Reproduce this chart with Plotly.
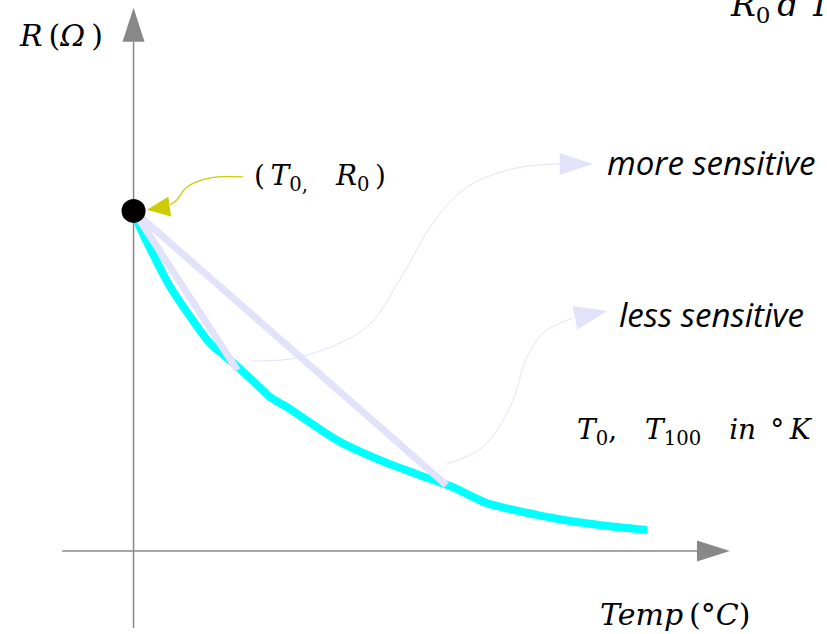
import math
import plotly.graph_objects as go

# ---------------- data ----------------
temp = [0, 1.2, 7.0, 14.8, 18.7, 24.5, 26.5, 29.8, 39.6, 49.3, 55.7, 62.1, 68.7, 81.6, 91.0, 100.0]
resistance = [100, 95.3, 78.0, 61.2, 56.2, 48.2, 45.3, 42.4, 32.6, 25.9, 22.3, 18.8, 14.1, 9.7, 7.6, 6.2]
T0, R0 = 0, 100
secant_T = [20.2, 60.9]
secant_R = [53.2, 19.4]

# annotation connector paths (data units)
more_T = [23.0, 32.4, 45.4, 51.8, 58.3, 64.9, 74.6, 83.0]
more_R = [55.9, 57.0, 65.9, 79.7, 96.4, 107.0, 112.6, 113.8]
less_T = [61.0, 68.0, 73.3, 76.6, 79.7, 85.5]
less_R = [25.6, 30.6, 42.3, 57.0, 64.1, 68.5]
pt_T = [21.3, 14.9, 10.4, 8.4, 7.1]
pt_R = [110.0, 109.7, 107.0, 103.2, 101.7]

X_RANGE = [-26.0, 135.0]
Y_RANGE = [-24.4, 162.0]
W, H = 827, 634
PX_X = W / (X_RANGE[1] - X_RANGE[0])
PX_Y = H / (Y_RANGE[1] - Y_RANGE[0])

GRAY = "#888888"
LAV = "#e2e2fa"
CYAN = "#00ffff"
YEL = "#cccc00"


def arrowhead(tip_x, tip_y, angle_deg, length, width):
    a = math.radians(angle_deg)
    dx, dy = math.cos(a), math.sin(a)
    bx = tip_x - length * dx / PX_X
    by = tip_y - length * dy / PX_Y
    px, py = -dy, dx
    c1 = (bx + width / 2 * px / PX_X, by + width / 2 * py / PX_Y)
    c2 = (bx - width / 2 * px / PX_X, by - width / 2 * py / PX_Y)
    return [tip_x, c1[0], c2[0], tip_x], [tip_y, c1[1], c2[1], tip_y]


fig = go.Figure()


def add_line(x, y, color, width, shape="linear", smoothing=1.0):
    line = dict(color=color, width=width, shape=shape)
    if shape == "spline":
        line["smoothing"] = smoothing
    fig.add_trace(go.Scatter(x=x, y=y, mode="lines", line=line, hoverinfo="skip"))


def add_head(x, y, color):
    fig.add_trace(go.Scatter(x=x, y=y, mode="lines", fill="toself", fillcolor=color,
                             line=dict(color=color, width=0), hoverinfo="skip"))


# axes
add_line([-13.9, 109.7], [0, 0], GRAY, 1.5)
add_head(*arrowhead(116.1, 0, 0, 33, 21), GRAY)
add_line([0, 0], [-22.6, 149.7], GRAY, 1.5)
add_head(*arrowhead(0, 159.7, 90, 34, 22), GRAY)

# curve
add_line(temp, resistance, CYAN, 8, "spline", 0.6)

# secant lines
for tx, rx in zip(secant_T, secant_R):
    add_line([T0, tx], [R0, rx], LAV, 7)

# thin connectors
add_line(more_T, more_R, LAV, 1, "spline")
add_head(*arrowhead(89.4, 113.8, 0, 33, 22), LAV)
add_line(less_T, less_R, LAV, 1, "spline")
add_head(*arrowhead(92.2, 70.6, 12, 33, 24), LAV)
add_line(pt_T, pt_R, YEL, 1.2, "spline")
add_head(*arrowhead(2.6, 100.3, 188, 23, 20), YEL)

# point
fig.add_trace(go.Scatter(x=[T0], y=[R0], mode="markers",
                         marker=dict(color="black", size=24), hoverinfo="skip"))

SERIF = "DejaVu Serif"
SANS = "Open Sans"
ann = [
    dict(x=-22.7, y=151.7, text="<i>R</i>\u2009(<i>Ω</i>\u2009)", size=30, fam=SERIF),
    dict(x=23.0, y=109.7, text="(\u2009<i>T</i><sub>0,</sub>\u2003<i>R</i><sub>0</sub>\u2009)", size=28, fam=SERIF),
    dict(x=91.8, y=114.1, text="<i>more sensitive</i>", size=33, fam=SANS),
    dict(x=94.1, y=69.4, text="<i>less sensitive</i>", size=33, fam=SANS),
    dict(x=85.9, y=35.0, text="<i>T</i><sub>0</sub>,\u2003<i>T</i><sub>100</sub>\u2003<i>in</i>\u2002°\u2009<i>K</i>", size=28, fam=SERIF),
    dict(x=90.4, y=-18.8, text="<i>Temp</i>\u2009(°<i>C</i>)", size=30, fam=SERIF),
]
for a in ann:
    fig.add_annotation(x=a["x"], y=a["y"], xref="x", yref="y", text=a["text"], showarrow=False,
                       xanchor="left", yanchor="middle",
                       font=dict(family=a["fam"], size=a["size"], color="black"))
fig.add_annotation(x=728 / W, y=1 - 6 / H, xref="paper", yref="paper",
                   text="<i>R</i><sub>0</sub>\u2009<i>d T</i>", showarrow=False,
                   xanchor="left", yanchor="middle",
                   font=dict(family=SERIF, size=33, color="black"))

fig.update_layout(width=W, height=H, margin=dict(l=0, r=0, t=0, b=0),
                  paper_bgcolor="white", plot_bgcolor="white", showlegend=False,
                  xaxis=dict(range=X_RANGE, visible=False, fixedrange=True),
                  yaxis=dict(range=Y_RANGE, visible=False, fixedrange=True))
fig.write_html("out.html", config={"displayModeBar": False},
               post_script="document.body.style.margin='0';document.body.style.overflow='hidden';")
